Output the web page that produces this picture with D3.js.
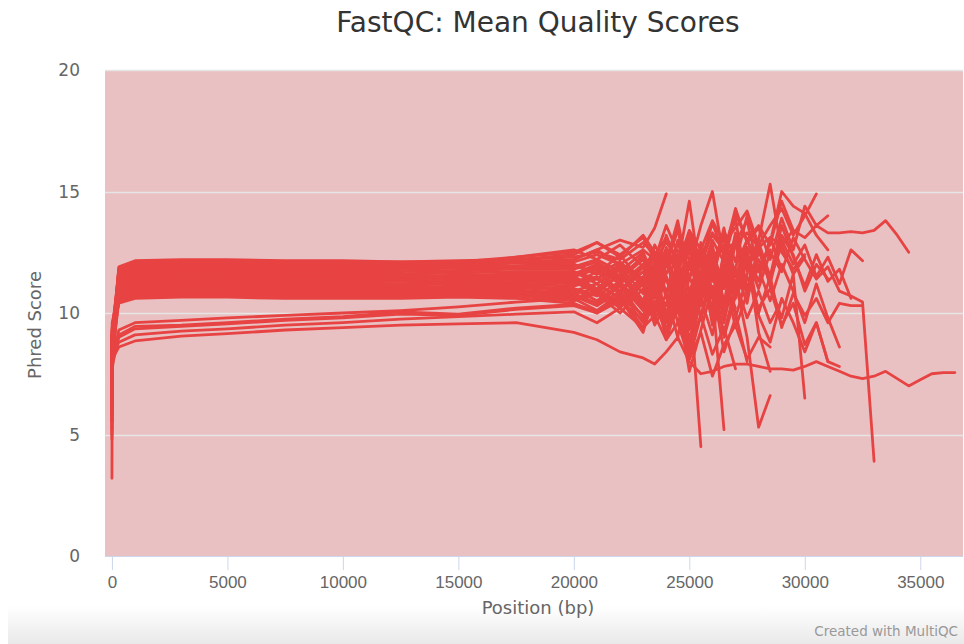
<!DOCTYPE html>
<html lang="en">
<head>
<meta charset="UTF-8">
<title>FastQC: Mean Quality Scores</title>
<script src="https://d3js.org/d3.v7.min.js"></script>
<style>
  body { margin: 0; background: #fff; }
  svg { display: block; font-family: "DejaVu Sans", "Open Sans", sans-serif; }
  .tick text { fill: #666; }
</style>
</head>
<body>
<svg id="chart" width="964" height="644"></svg>
<script>
// --- Data: shared bin positions (bp) and mean Phred score per sample ---
const positions = [1, 10, 300, 1000, 3000, 5000, 7500, 10000, 12500, 15000, 17500, 20000,
  21000, 22000, 23000, 23500, 24000, 24500, 25000, 25500, 26000, 26500, 27000, 27500,
  28000, 28500, 29000, 29500, 30000, 30500, 31000, 31500, 32000, 32500, 33000, 33500,
  34000, 34500, 35000, 35500, 36000, 36500];

const s01 = [6.8, 8.9, 11.9, 12.15, 12.2, 12.2, 12.15, 12.15, 12.1, 12.15, 12.2, 12.3,
  12.5, 12.2, 12.9, 12.4, 13.1, 12.0, 13.4, 12.6, 13.8, 12.9, 13.5, 14.2, 12.8, 13.6, 14.3, 13.2, 14.0, 14.9];
const s02 = [5.5, 8.5, 11.85, 12.1, 12.15, 12.15, 12.1, 12.1, 12.1, 12.1, 12.2, 12.4,
  12.9, 12.3, 13.2, 12.5, 12.0, 13.4, 12.2, 11.6, 13.0, 12.1, 12.8, 11.9, 13.0, 15.3, 12.5, 11.8, 12.4];
const s03 = [7.2, 9.1, 11.8, 12.0, 12.05, 12.05, 12.0, 12.0, 12.0, 12.05, 12.1, 12.2,
  12.6, 13.0, 12.7, 13.5, 14.9];
const s04 = [6.2, 8.7, 11.75, 11.95, 12.0, 12.0, 11.95, 11.95, 11.9, 12.0, 12.05, 12.1,
  12.4, 12.0, 12.6, 12.2, 12.9, 12.3, 13.0, 12.4, 13.2, 12.6, 12.9, 13.3, 12.7, 13.1, 12.8, 13.4,
  13.1, 13.6, 13.3, 13.3, 13.35, 13.3, 13.4, 13.8, 13.2, 12.5];
const s05 = [7.9, 9.3, 11.65, 11.85, 11.9, 11.9, 11.85, 11.85, 11.85, 11.9, 11.95, 12.0,
  11.6, 12.4, 11.2, 12.8, 11.9, 13.5, 10.8, 12.2, 9.5, 11.7, 13.1, 11.0, 12.5];
const s06 = [4.8, 8.2, 11.6, 11.8, 11.85, 11.85, 11.8, 11.8, 11.8, 11.85, 11.9, 11.9,
  12.2, 11.7, 12.5, 11.4, 13.2, 12.0, 14.6, 11.3, 12.7, 10.4, 12.9, 13.8, 11.7, 12.9, 15.0, 14.4, 14.1, 13.2, 12.6];
const s07 = [6.5, 8.8, 11.5, 11.7, 11.75, 11.75, 11.7, 11.7, 11.7, 11.75, 11.8, 11.8,
  12.1, 11.5, 12.3, 11.8, 12.6, 11.6, 11.0, 4.5];
const s08 = [7.0, 9.0, 11.4, 11.6, 11.65, 11.65, 11.6, 11.6, 11.6, 11.65, 11.7, 11.7,
  11.4, 12.0, 11.1, 12.5, 10.6, 13.0, 11.8, 13.6, 15.0, 12.2, 13.9, 10.9, 12.6, 11.4, 13.0, 12.0,
  12.8, 11.5, 12.3, 11.2, 12.6, 12.15];
const s09 = [8.2, 9.4, 11.35, 11.55, 11.6, 11.6, 11.55, 11.55, 11.5, 11.55, 11.6, 11.6,
  11.9, 11.3, 12.4, 10.9, 12.1, 13.8, 11.4, 12.7, 10.8, 5.2];
const s10 = [6.0, 8.6, 11.25, 11.45, 11.5, 11.5, 11.45, 11.45, 11.45, 11.5, 11.5, 11.4,
  11.0, 11.8, 10.4, 11.6, 9.8, 12.4, 10.1, 12.9, 11.3, 13.4, 12.1, 14.0, 12.6, 11.2, 13.2, 12.4, 10.9, 12.0, 11.4];
const s11 = [7.6, 9.2, 11.2, 11.4, 11.45, 11.45, 11.4, 11.4, 11.4, 11.45, 11.45, 11.5,
  11.8, 11.2, 12.0, 10.9, 11.5, 10.3, 12.2, 11.0, 11.9, 10.1, 11.3, 9.0, 5.3, 6.6];
const s12 = [5.2, 8.3, 11.1, 11.3, 11.35, 11.35, 11.3, 11.3, 11.3, 11.35, 11.4, 11.3,
  10.9, 11.6, 10.5, 11.9, 9.9, 11.5, 8.7, 10.8, 12.3, 9.6, 11.8, 10.4, 12.9, 11.1, 9.8, 11.6, 6.5];
const s13 = [6.9, 8.9, 11.0, 11.2, 11.25, 11.25, 11.2, 11.2, 11.2, 11.25, 11.3, 11.2,
  11.5, 10.8, 11.9, 10.6, 12.3, 11.1, 9.4, 11.7, 10.2, 12.4, 11.0];
const s14 = [7.4, 9.1, 10.95, 11.15, 11.2, 11.2, 11.15, 11.15, 11.15, 11.2, 11.2, 11.1,
  11.4, 10.9, 11.7, 10.7, 12.0, 11.2, 12.6, 10.8, 11.9, 12.8, 11.5, 12.3, 11.0, 12.5, 11.7, 13.1,
  12.2, 11.4, 11.9, 10.9, 10.7, 10.45, 3.9];
const s15 = [8.5, 9.6, 10.85, 11.05, 11.1, 11.1, 11.05, 11.05, 11.05, 11.1, 11.1, 11.0,
  10.7, 11.3, 10.2, 11.7, 9.6, 10.9, 8.4, 10.6, 9.1, 11.4, 10.0, 8.0];
const s16 = [5.8, 8.4, 10.8, 11.0, 11.05, 11.05, 11.0, 11.0, 11.0, 11.05, 11.05, 10.9,
  11.2, 10.6, 11.5, 10.1, 12.1, 10.7, 13.2, 11.4, 12.8, 10.3, 11.9, 13.0, 11.8, 10.5, 12.0, 10.9,
  9.6, 11.2, 9.8, 8.6];
const s17 = [7.1, 9.0, 10.7, 10.9, 10.95, 10.95, 10.9, 10.9, 10.9, 10.95, 10.95, 10.8,
  10.4, 11.1, 9.8, 11.3, 9.3, 10.6, 8.1, 9.9, 11.8, 9.0, 10.7, 12.2, 10.0, 11.5, 9.4, 10.8,
  9.9, 10.6, 9.6, 10.4, 10.3, 10.3];
const s18 = [6.4, 8.7, 10.65, 10.85, 10.9, 10.9, 10.85, 10.85, 10.85, 10.9, 10.9, 10.8,
  11.0, 10.4, 11.4, 9.9, 12.2, 10.5, 12.9, 9.7, 11.6, 13.5, 10.8, 12.4, 9.2, 7.6];
const s19 = [7.8, 9.2, 10.6, 10.8, 10.85, 10.85, 10.8, 10.8, 10.8, 10.85, 10.85, 10.7,
  10.3, 10.9, 9.6, 11.0, 8.9, 10.4, 7.6, 9.3, 11.1, 8.4, 9.8, 11.5, 10.2, 11.0, 9.5, 10.4, 8.7, 9.6, 8.0];
const s20 = [5.0, 8.1, 10.55, 10.75, 10.8, 10.8, 10.75, 10.75, 10.75, 10.8, 10.8, 10.6,
  10.9, 10.2, 11.2, 9.7, 10.8, 9.0, 11.5, 10.3, 12.6, 11.0, 13.3, 11.7, 12.9, 11.5, 13.6, 12.3,
  11.1, 12.4, 11.3, 11.8, 10.6];
const s21 = [7.3, 9.1, 10.5, 10.7, 10.75, 10.75, 10.7, 10.7, 10.7, 10.75, 10.75, 10.6,
  10.1, 10.7, 9.4, 10.5, 9.9, 11.2, 10.0, 12.1, 10.6, 11.5, 10.2];
const s22 = [6.6, 8.8, 10.45, 10.65, 10.7, 10.7, 10.65, 10.65, 10.65, 10.7, 10.7, 10.5,
  10.8, 10.0, 11.0, 9.5, 10.4, 11.6, 9.8, 12.3, 10.9, 9.2, 11.0, 12.7, 9.9, 8.8, 10.6, 9.6,
  8.4, 9.6, 8.0, 7.8];
const s23 = [7.7, 9.3, 10.4, 10.6, 10.65, 10.65, 10.6, 10.6, 10.6, 10.65, 10.6, 10.4,
  10.0, 10.6, 9.2, 10.9, 9.6, 11.4, 8.9, 10.7, 12.0, 10.4];
const s24 = [3.2, 7.5, 11.3, 11.5, 11.55, 11.55, 11.5, 11.5, 11.5, 11.55, 11.55, 11.6,
  12.0, 11.4, 12.2, 11.0, 12.7, 11.8, 13.3, 12.1, 13.7, 12.4, 14.3, 12.9, 13.5, 12.2, 13.9, 12.6,
  14.4, 13.6, 14.0];
const s25 = [6.0, 8.0, 9.3, 9.6, 9.7, 9.8, 9.9, 10.0, 10.1, 10.25, 10.45, 10.6,
  10.9, 10.3, 11.3, 10.0, 11.5, 9.6, 10.8, 12.4, 10.6, 11.9, 9.9];
const s26 = [5.5, 7.8, 9.0, 9.35, 9.45, 9.55, 9.7, 9.8, 9.95, 9.9, 10.15, 10.3,
  10.0, 10.5, 9.7, 10.4, 9.2, 10.1, 8.7, 9.9, 8.3, 9.4, 7.7];
const s27 = [6.3, 8.2, 8.8, 9.1, 9.25, 9.35, 9.5, 9.6, 9.75, 9.85, 9.95, 10.05,
  9.6, 10.2, 9.4, 9.9, 8.9, 9.6, 8.1, 9.2, 7.4, 8.7, 9.5, 8.1, 9.0, 8.6];
const s28 = [6.8, 8.1, 8.6, 8.85, 9.05, 9.15, 9.3, 9.4, 9.5, 9.55, 9.6, 9.2,
  8.9, 8.4, 8.15, 7.9, 8.4, 9.0, 8.0, 7.5, 7.6, 7.8, 7.9, 7.9, 7.8, 7.7, 7.7, 7.65,
  7.8, 8.0, 7.8, 7.6, 7.4, 7.3, 7.4, 7.6, 7.3, 7.0, 7.25, 7.5, 7.55, 7.55];
const s29 = [7.0, 8.4, 9.1, 9.45, 9.5, 9.6, 9.75, 9.85, 10.05, 9.95, 10.2, 10.35,
  10.1, 10.8, 9.9, 11.0, 10.3, 11.8, 9.5, 11.2, 10.0, 12.5, 10.7, 11.6];
const s30 = [6.1, 8.6, 11.7, 11.9, 11.95, 11.95, 11.9, 11.9, 11.95, 12.0, 12.3, 12.6,
  12.2, 12.8, 11.9, 12.5, 11.6, 12.9, 11.5, 12.3, 10.9, 12.0, 11.2, 13.0, 12.1];
const s31 = [7.5, 9.0, 11.55, 11.75, 11.8, 11.8, 11.75, 11.75, 11.8, 11.9, 12.1, 12.0,
  11.6, 12.1, 11.3, 12.0, 10.9, 11.8, 10.4, 11.6, 9.8, 11.9, 10.6, 12.4, 11.3, 13.1, 11.8];
const s32 = [5.9, 8.5, 11.45, 11.65, 11.7, 11.7, 11.65, 11.65, 11.6, 11.7, 11.9, 12.2,
  12.6, 12.0, 11.4, 12.3, 10.8, 12.0, 12.8, 10.9, 12.4, 11.1, 12.9, 10.7, 11.9];
const s33 = [6.7, 8.8, 11.15, 11.35, 11.4, 11.4, 11.35, 11.35, 11.4, 11.3, 11.5, 11.7,
  11.2, 11.9, 10.8, 12.1, 11.4, 10.2, 12.0, 10.8, 11.6, 9.9, 11.3, 12.2];
const s34 = [7.9, 9.3, 11.05, 11.25, 11.3, 11.3, 11.25, 11.25, 11.2, 11.3, 11.4, 11.2,
  11.7, 10.9, 12.0, 11.3, 12.5, 10.6, 11.9, 11.0, 12.6, 10.4, 11.7, 10.9, 12.2, 11.4, 12.8, 11.6, 12.3];
const s35 = [6.3, 8.6, 10.9, 11.1, 11.15, 11.15, 11.1, 11.1, 11.1, 11.0, 11.2, 11.5,
  11.0, 11.8, 10.5, 11.4, 10.0, 11.1, 9.7, 11.3, 10.1, 11.6, 9.4, 10.8];
const s36 = [7.2, 9.0, 10.75, 10.95, 11.0, 11.0, 10.95, 10.95, 11.0, 10.9, 11.1, 11.3,
  10.8, 11.6, 10.3, 11.1, 9.9, 11.7, 10.5, 12.2, 10.0, 11.4, 10.8];
const s37 = [5.6, 8.3, 10.55, 10.8, 10.85, 10.85, 10.8, 10.8, 10.75, 10.9, 10.7, 11.0,
  10.5, 11.2, 10.1, 11.0, 9.6, 10.7, 9.3, 10.9, 11.8, 10.2, 11.3, 9.8, 10.9, 9.6, 10.5];
const s38 = [6.9, 8.8, 11.8, 12.05, 12.1, 12.1, 12.05, 12.05, 12.05, 12.1, 12.3, 12.5,
  12.9, 12.4, 13.1, 12.2, 13.6, 12.5, 13.0, 12.0, 13.3, 12.6, 14.1, 13.0, 13.6, 12.8, 14.6, 13.4];
const s39 = [7.4, 9.1, 11.2, 11.45, 11.5, 11.5, 11.45, 11.45, 11.4, 11.5, 11.6, 11.5,
  11.9, 11.4, 12.3, 11.1, 12.5, 11.7, 12.9, 11.3, 12.1, 13.2, 11.6, 12.7, 11.9, 12.6];

const samples = [s01, s02, s03, s04, s05, s06, s07, s08, s09, s10, s11, s12, s13, s14, s15,
  s16, s17, s18, s19, s20, s21, s22, s23, s24, s25, s26, s27, s28, s29, s30, s31, s32, s33,
  s34, s35, s36, s37, s38, s39];

const xTicks = [0, 5000, 10000, 15000, 20000, 25000, 30000, 35000];
const yTicks = [0, 5, 10, 15, 20];

// --- Layout ---
const svg = d3.select("#chart");
const plot = { left: 105, right: 963, top: 70, bottom: 556 };

const x = d3.scaleLinear().domain([-300, 36850]).range([plot.left, plot.right]);
const y = d3.scaleLinear().domain([0, 20]).range([plot.bottom, plot.top]);

// footer shading
const defs = svg.append("defs");
const grad = defs.append("linearGradient").attr("id", "foot").attr("x1", 0).attr("y1", 0).attr("x2", 0).attr("y2", 1);
grad.append("stop").attr("offset", "0%").attr("stop-color", "#ffffff");
grad.append("stop").attr("offset", "100%").attr("stop-color", "#e9e9e9");
svg.append("rect").attr("x", 8).attr("y", 606).attr("width", 956).attr("height", 38).attr("fill", "url(#foot)");

// plot band (fail zone)
svg.append("rect")
  .attr("x", plot.left).attr("y", plot.top)
  .attr("width", plot.right - plot.left).attr("height", plot.bottom - plot.top)
  .attr("fill", "#e9c1c2");

// horizontal grid
svg.append("g").selectAll("line").data(yTicks.filter(d => d > 0)).join("line")
  .attr("x1", plot.left).attr("x2", plot.right)
  .attr("y1", d => Math.round(y(d)) + 0.5).attr("y2", d => Math.round(y(d)) + 0.5)
  .attr("stroke", "#e6e6e6").attr("stroke-width", 1.5);

// lines
const line = d3.line()
  .x((d, i) => x(positions[i]))
  .y(d => y(d));

svg.append("g").selectAll("path").data(samples).join("path")
  .attr("d", line)
  .attr("fill", "none")
  .attr("stroke", "#e84343")
  .attr("stroke-width", 2.8)
  .attr("stroke-linejoin", "round")
  .attr("stroke-linecap", "round");

// x axis
const xAxis = svg.append("g")
  .attr("transform", `translate(0,${plot.bottom})`)
  .call(d3.axisBottom(x).tickValues(xTicks).tickSize(14).tickPadding(6).tickFormat(d3.format("d")));
xAxis.select(".domain").attr("stroke", "#ccd6eb").attr("d", `M${plot.left},0.5H${plot.right}`);
xAxis.selectAll(".tick line").attr("stroke", "#ccd6eb");
xAxis.selectAll(".tick text").attr("font-size", 17).attr("fill", "#666");

// y axis labels
svg.append("g").selectAll("text").data(yTicks).join("text")
  .attr("x", 80).attr("y", d => y(d) + 6)
  .attr("text-anchor", "end")
  .attr("font-size", 17).attr("fill", "#666")
  .text(d => d);

// titles
svg.append("text")
  .attr("x", 538).attr("y", 32)
  .attr("text-anchor", "middle")
  .attr("font-size", 28).attr("fill", "#333")
  .text("FastQC: Mean Quality Scores");

svg.append("text")
  .attr("x", 538).attr("y", 614)
  .attr("text-anchor", "middle")
  .attr("font-size", 18).attr("fill", "#666")
  .text("Position (bp)");

svg.append("text")
  .attr("transform", "translate(41,325) rotate(-90)")
  .attr("text-anchor", "middle")
  .attr("font-size", 18).attr("fill", "#666")
  .text("Phred Score");

svg.append("text")
  .attr("x", 958).attr("y", 636)
  .attr("text-anchor", "end")
  .attr("font-size", 13.5).attr("fill", "#999")
  .text("Created with MultiQC");
</script>
</body>
</html>
